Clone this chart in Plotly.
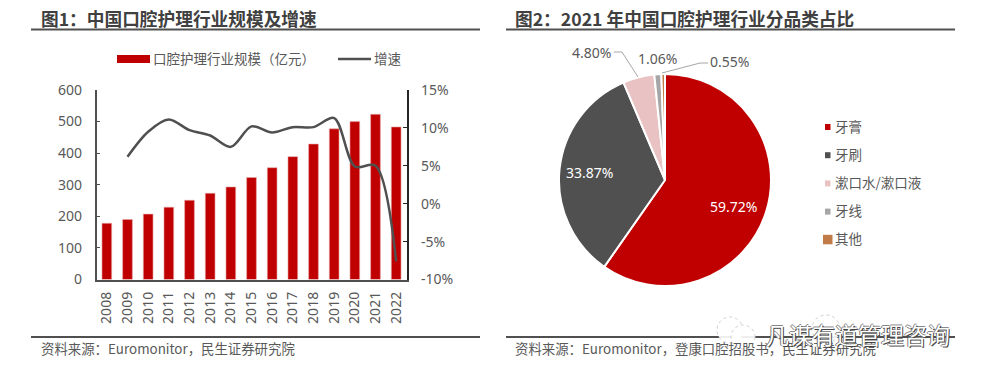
import plotly.graph_objects as go

W, H = 985, 378
years = [str(y) for y in range(2008, 2023)]
market_size = [178, 190, 207, 229, 251, 273, 293, 323, 354, 389, 429, 477, 500, 523, 483]
growth = [None, 6.2, 9.5, 11.1, 9.7, 9.0, 7.5, 10.2, 9.4, 10.1, 10.1, 11.3, 4.9, 5.0, -7.6]
left_ticks = [0, 100, 200, 300, 400, 500, 600]
right_ticks = [-10, -5, 0, 5, 10, 15]
pie_labels = ["牙膏", "牙刷", "漱口水/漱口液", "牙线", "其他"]
pie_values = [59.72, 33.87, 4.80, 1.06, 0.55]
pie_colors = ["#C00000", "#505050", "#E9C3C3", "#A6A6A6", "#C07B47"]
bar_name = "口腔护理行业规模（亿元）"
line_name = "增速"
title1 = "图1：中国口腔护理行业规模及增速"
title2 = "图2：2021 年中国口腔护理行业分品类占比"
source1 = "资料来源：Euromonitor，民生证券研究院"
source2 = "资料来源：Euromonitor，登康口腔招股书，民生证券研究院"
watermark = "凡谋有道管理咨询"

CJK = "Noto Sans CJK SC"
TXT = "#595959"

def fx(p): return p / W
def fy(p): return 1 - p / H

fig = go.Figure()
fig.add_bar(x=years, y=market_size, name=bar_name, marker=dict(color="#C00000", line=dict(color="#E6A8A8", width=0.6)),
            yaxis="y", showlegend=False)
fig.add_scatter(x=years, y=growth, name=line_name, mode="lines", yaxis="y2", showlegend=False,
                line=dict(color="#505050", width=2.5, shape="spline", smoothing=0.9))
fig.add_pie(labels=pie_labels, values=pie_values, sort=False, direction="clockwise", rotation=0,
            marker=dict(colors=pie_colors, line=dict(color="white", width=2)),
            textinfo="none", hoverinfo="label+percent", showlegend=False,
            domain=dict(x=[fx(559), fx(771)], y=[fy(286), fy(74)]))

ann, shp = [], []
def text(x, y, s, size=13, color=TXT, anchor="left", bold=False, family=CJK, **kw):
    dx = -2 if anchor == "left" else 0
    dy = -1.5 if family == CJK else 0
    ann.append(dict(xref="paper", yref="paper", x=fx(x + dx), y=fy(y + dy), text=f"<b>{s}</b>" if bold else s,
                    showarrow=False, xanchor=anchor, yanchor="middle",
                    font=dict(family=family, size=size, color=color, **kw)))
def rule(x0, x1, y, color="#505050", width=2):
    shp.append(dict(type="line", xref="paper", yref="paper", x0=fx(x0), x1=fx(x1), y0=fy(y), y1=fy(y),
                    line=dict(color=color, width=width)))
def rect(x0, x1, y0, y1, color):
    shp.append(dict(type="rect", xref="paper", yref="paper", x0=fx(x0), x1=fx(x1), y0=fy(y0), y1=fy(y1),
                    line=dict(width=0), fillcolor=color))
def poly(pts):
    path = "M" + " L".join(f"{fx(a):.5f},{fy(b):.5f}" for a, b in pts)
    shp.append(dict(type="path", xref="paper", yref="paper", path=path, line=dict(color="#A6A6A6", width=1)))

# titles, rules, sources
text(41, 19.5, title1, size=17.7, color="#404040", bold=True)
text(515, 19.5, title2, size=17.7, color="#404040", bold=True)
for a, b in [(31, 480), (506, 955)]:
    rule(a, b, 29.5)
    rule(a, b, 337)
text(41, 349.5, source1, size=13.4)
text(515, 349.5, source2, size=13.4)

# chart 1 legend
rect(117, 150, 55, 63, "#C00000")
text(153, 59.5, bar_name, size=13.5)
rule(338, 371, 59, width=2.5)
text(374, 59.5, line_name, size=13.5)

# pie value labels
text(733, 206, f"{pie_values[0]:.2f}%", size=14, color="white", anchor="center", family="Noto Sans")
text(589, 172, f"{pie_values[1]:.2f}%", size=14, color="white", anchor="center", family="Noto Sans")
text(591, 52, f"{pie_values[2]:.2f}%", size=14, anchor="center", family="Noto Sans")
text(657, 58, f"{pie_values[3]:.2f}%", size=14, anchor="center", family="Noto Sans")
text(729, 61, f"{pie_values[4]:.2f}%", size=14, anchor="center", family="Noto Sans")
poly([(614, 52), (622, 52), (638, 77)])
poly([(708, 63), (700, 63), (662, 73)])

# pie legend
for i, (lab, col) in enumerate(zip(pie_labels, pie_colors)):
    yc = 127 + i * 28.2
    if i < 4:
        rect(825, 830.5, yc - 3, yc + 3, col)
    else:
        rect(823, 832.5, yc - 5, yc + 4.5, col)
    text(835, yc, lab, size=13.5)

# watermark
for cx, cy, r in [(730, 330, 13), (743, 337, 12), (826, 329, 14)]:
    shp.append(dict(type="circle", xref="paper", yref="paper", x0=fx(cx - r), x1=fx(cx + r), y0=fy(cy + r), y1=fy(cy - r),
                    fillcolor="rgba(255,255,255,0.9)", line=dict(color="#D0D0D0", width=1, dash="dot")))
text(766, 335, watermark, size=23, color="#FFFFFF", shadow="1px 1px 0 #444, -1px 0 0 #777, 0 -1px 0 #888")

axis_line = dict(showline=True, linecolor="#505050", linewidth=1.5)
fig.update_layout(
    template="none",
    width=W, height=H, autosize=False, margin=dict(l=0, r=0, t=0, b=0, pad=0, autoexpand=False), paper_bgcolor="white", plot_bgcolor="white",
    showlegend=False, annotations=ann, shapes=shp, bargap=0.53,
    font=dict(family=CJK, color=TXT),
    xaxis=dict(domain=[fx(96.5), fx(406.5)], type="category", tickangle=-90, ticks="", showgrid=False, automargin=False,
               tickfont=dict(family="Noto Sans", size=14, color=TXT), ticklabelstandoff=5, **axis_line),
    yaxis=dict(domain=[fy(279.5), fy(90)], range=[0, 600], tickvals=left_ticks, ticks="inside", ticklen=4, automargin=False,
               tickcolor="#505050", showgrid=False, zeroline=False, ticklabelstandoff=10,
               tickfont=dict(family="Noto Sans", size=14, color=TXT), **axis_line),
    yaxis2=dict(overlaying="y", side="right", anchor="x", range=[-10, 15], tickvals=right_ticks, automargin=False,
                ticktext=[f"{v}%" for v in right_ticks], ticks="inside", ticklen=4, tickcolor="#262626",
                showgrid=False, zeroline=False, showline=True, linecolor="#262626", linewidth=1.5,
                ticklabelstandoff=10, tickfont=dict(family="Noto Sans", size=14, color=TXT)),
)
fig.write_html("out.html", post_script="document.body.style.margin='0';document.body.style.overflow='hidden';",
               config=dict(displayModeBar=False))
